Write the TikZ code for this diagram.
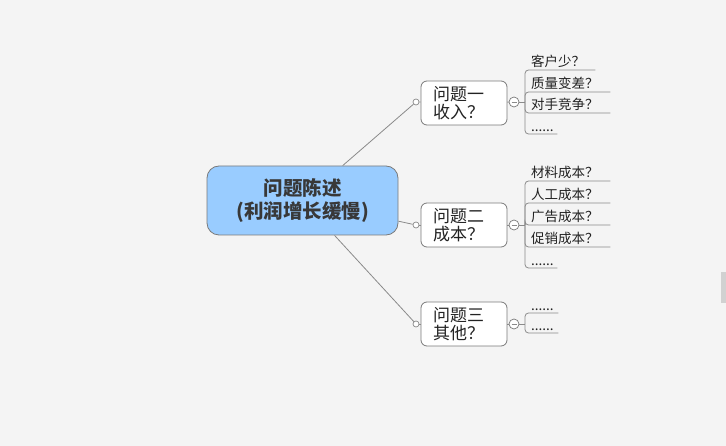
\documentclass[tikz,border=0pt]{standalone}
\usepackage{fontspec}
\newfontfamily\cjk{Noto Sans CJK SC}
\definecolor{bg}{HTML}{F4F4F4}
\definecolor{linegray}{HTML}{8A8A8A}
\definecolor{boxgray}{HTML}{7A7A7A}
\definecolor{bluefill}{HTML}{99CCFF}
\definecolor{txt}{HTML}{222222}
\begin{document}
\begin{tikzpicture}[x=1pt,y=-1pt,
  conn/.style={draw=linegray, line width=0.8pt},
  central/.style={draw=boxgray, line width=0.8pt, fill=bluefill, rounded corners=12pt,
    minimum width=191pt, minimum height=69pt, align=center, inner sep=0pt,
    font=\cjk\bfseries\fontsize{19.5}{23}\selectfont, text=txt!90!white},
  topic/.style={draw=boxgray, line width=0.8pt, fill=white, rounded corners=6pt,
    text width=62pt, inner xsep=12pt, minimum height=44pt, align=left,
    font=\cjk\fontsize{17}{18}\selectfont, text=txt},
  dot/.style={circle, draw=linegray, line width=0.7pt, fill=white, minimum size=6pt, inner sep=0pt},
  fold/.style={circle, draw=boxgray, line width=0.7pt, fill=white, minimum size=10pt, inner sep=0pt},
  leaf/.style={anchor=south west, text width=#1, inner xsep=6pt, inner ysep=2.5pt, align=left,
    font=\cjk\fontsize{13.5}{14}\selectfont, text=txt}
]
\fill[bg] (0,0) rectangle (726,446);
\useasboundingbox (0,0) rectangle (726,446);
\fill[black!18] (721,272) rectangle (726,303);

% central
\node[central] (c) at (302.5,200.5) {问题陈述\\(利润增长缓慢)};

% topics
\node[topic] (n1) at (464,103) {问题一\\收入？};
\node[topic] (n2) at (464,225) {问题二\\成本？};
\node[topic] (n3) at (464,324) {问题三\\其他？};

\node[dot] (p1) at (416,102) {};
\node[dot] (p2) at (416,225) {};
\node[dot] (p3) at (416,324) {};

\draw[conn] (c) -- (p1);
\draw[conn] (c) -- (p2);
\draw[conn] (c) -- (p3);
\draw[conn] (p1) -- (n1);
\draw[conn] (p2) -- (n2);
\draw[conn] (p3) -- (n3);

% fold circles
\node[fold] (f1) at (514,102) {};
\node[fold] (f2) at (514,225) {};
\node[fold] (f3) at (514,324) {};
\foreach \f in {f1,f2,f3}{
  \draw[conn] (\f.center) ++(-2.5,0) -- ++(5,0);
}
\draw[conn] (n1) -- (f1);
\draw[conn] (n2) -- (f2);
\draw[conn] (n3) -- (f3);

\coordinate (b1) at (525,102);
\coordinate (b2) at (525,225);
\coordinate (b3) at (525,324);
\draw[conn] (f1) -- (b1);
\draw[conn] (f2) -- (b2);
\draw[conn] (f3) -- (b3);

% leaves of topic 1
\node[leaf=58pt] (l11) at (525,70) {客户少？};
\node[leaf=73pt] (l12) at (525,92) {质量变差？};
\node[leaf=73pt] (l13) at (525,113) {对手竞争？};
\node[leaf=20pt] (l14) at (525,134) {......};
% leaves of topic 2
\node[leaf=73pt] (l21) at (525,181) {材料成本？};
\node[leaf=73pt] (l22) at (525,203) {人工成本？};
\node[leaf=73pt] (l23) at (525,225) {广告成本？};
\node[leaf=73pt] (l24) at (525,247) {促销成本？};
\node[leaf=20pt] (l25) at (525,268) {......};
% leaves of topic 3
\node[leaf=21pt] (l31) at (525,313) {......};
\node[leaf=21pt] (l32) at (525,333) {......};

\foreach \l in {l11,l12,l13,l14}{
  \draw[conn, rounded corners=3.5pt] (b1) |- (\l.south east);
}
\foreach \l in {l21,l22,l23,l24,l25}{
  \draw[conn, rounded corners=3.5pt] (b2) |- (\l.south east);
}
\foreach \l in {l31,l32}{
  \draw[conn, rounded corners=3.5pt] (b3) |- (\l.south east);
}
\end{tikzpicture}
\end{document}
